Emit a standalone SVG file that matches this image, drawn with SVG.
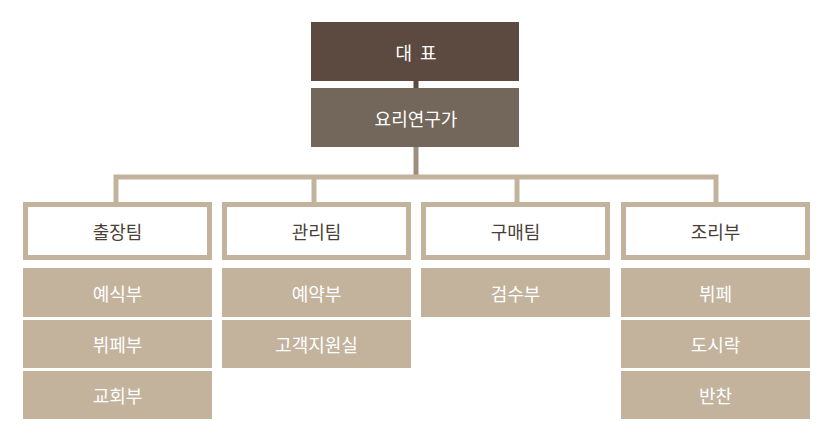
<svg xmlns="http://www.w3.org/2000/svg" width="831" height="438" viewBox="0 0 831 438">
<style>
text{font-family:"Noto Sans CJK KR","Noto Sans",sans-serif;font-size:18px;text-anchor:middle;dominant-baseline:central}
.team rect{fill:#fff;stroke:#c3b39d;stroke-width:5}
.team text{fill:#4a3f38}
.sub rect{fill:#c3b39d}
.sub text{fill:#fff}
.conn{fill:none;stroke:#c3b39d;stroke-width:5}
</style>
<rect width="831" height="438" fill="#fff"/>
<g id="connectors">
<line x1="416" y1="80" x2="416" y2="89" stroke="#5c4a40" stroke-width="5"/>
<line x1="416" y1="147" x2="416" y2="177" stroke="#9e8e80" stroke-width="5"/>
<polyline class="conn" points="116,203 116,177 716,177 716,203"/>
<line class="conn" x1="314" y1="177" x2="314" y2="203"/>
<line class="conn" x1="517" y1="177" x2="517" y2="203"/>
</g>
<g id="ceo"><rect x="311" y="22" width="208" height="59" fill="#5c4a40"/><text x="416" y="51.5" fill="#fff" xml:space="preserve">대  표</text></g>
<g id="chef"><rect x="311" y="88" width="208" height="59" fill="#73665a"/><text x="416" y="117.5" fill="#fff">요리연구가</text></g>
<g id="team1" class="team"><rect x="25.5" y="204.5" width="184" height="53"/><text x="117.5" y="231">출장팀</text></g>
<g id="team2" class="team"><rect x="224.5" y="204.5" width="184" height="53"/><text x="316.5" y="231">관리팀</text></g>
<g id="team3" class="team"><rect x="423.5" y="204.5" width="184" height="53"/><text x="515.5" y="231">구매팀</text></g>
<g id="team4" class="team"><rect x="623.5" y="204.5" width="184" height="53"/><text x="715.5" y="231">조리부</text></g>
<g id="s1" class="sub"><rect x="23" y="268" width="189" height="49"/><text x="117.5" y="292.5">예식부</text></g>
<g id="s2" class="sub"><rect x="23" y="320" width="189" height="48"/><text x="117.5" y="344">뷔페부</text></g>
<g id="s3" class="sub"><rect x="23" y="371" width="189" height="48"/><text x="117.5" y="395">교회부</text></g>
<g id="s4" class="sub"><rect x="222" y="268" width="189" height="49"/><text x="316.5" y="292.5">예약부</text></g>
<g id="s5" class="sub"><rect x="222" y="320" width="189" height="48"/><text x="316.5" y="344">고객지원실</text></g>
<g id="s6" class="sub"><rect x="421" y="268" width="189" height="49"/><text x="515.5" y="292.5">검수부</text></g>
<g id="s7" class="sub"><rect x="621" y="268" width="189" height="49"/><text x="715.5" y="292.5">뷔페</text></g>
<g id="s8" class="sub"><rect x="621" y="320" width="189" height="48"/><text x="715.5" y="344">도시락</text></g>
<g id="s9" class="sub"><rect x="621" y="371" width="189" height="48"/><text x="715.5" y="395">반찬</text></g>
</svg>
